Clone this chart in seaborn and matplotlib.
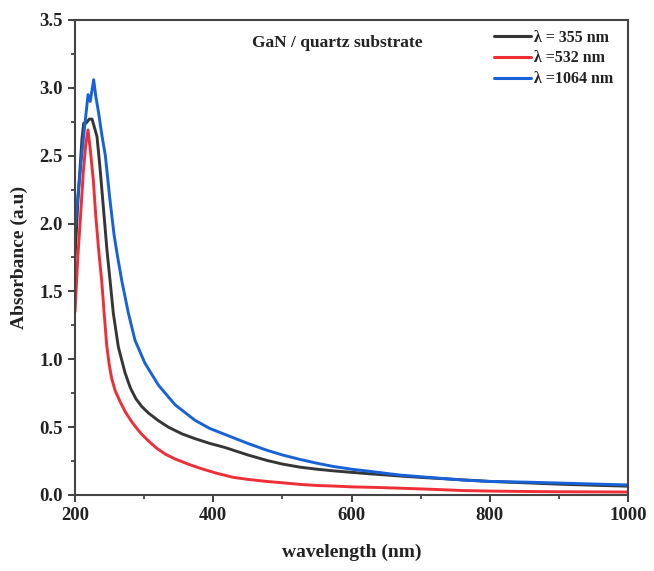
import numpy as np
import pandas as pd
import seaborn as sns
import matplotlib
matplotlib.use("Agg")
import matplotlib.pyplot as plt
from matplotlib.ticker import MultipleLocator

# ---- data ----
wl_355 = [200, 204, 207.7, 210, 212.6, 216, 220.7, 224.6, 228, 231.8, 236, 241, 246.3, 250.7,
          255.4, 262.7, 272.4, 280, 288, 296, 306, 320, 335, 355, 373.7, 395, 417, 450, 477.4,
          500, 525.6, 550, 573.8, 600, 622, 670, 699, 750, 800, 850, 900, 950, 1000]
ab_355 = [1.75, 2.15, 2.44, 2.62, 2.74, 2.74, 2.77, 2.77, 2.71, 2.64, 2.42, 2.12, 1.80, 1.58,
          1.34, 1.09, 0.90, 0.79, 0.71, 0.655, 0.605, 0.55, 0.50, 0.45, 0.415, 0.38, 0.35, 0.295,
          0.255, 0.228, 0.205, 0.19, 0.178, 0.167, 0.158, 0.14, 0.13, 0.115, 0.10, 0.09, 0.08,
          0.072, 0.065]

wl_532 = [200, 204, 207.7, 212, 215.5, 218.8, 222, 226.5, 230, 234.3, 238.6, 242, 245.9, 249.5,
          253, 258, 265, 273, 282, 288, 296, 306, 318, 331, 345, 365, 381, 405, 429, 450, 477,
          500, 525.6, 550, 573.8, 600, 641, 700, 761, 800, 850, 900, 950, 1000]
ab_532 = [1.35, 1.75, 2.03, 2.38, 2.58, 2.69, 2.55, 2.32, 2.06, 1.80, 1.58, 1.35, 1.10, 0.96,
          0.86, 0.77, 0.69, 0.61, 0.54, 0.50, 0.45, 0.40, 0.345, 0.30, 0.265, 0.225, 0.197, 0.16,
          0.13, 0.115, 0.10, 0.09, 0.078, 0.07, 0.066, 0.06, 0.055, 0.045, 0.033, 0.029, 0.026,
          0.024, 0.023, 0.022]

wl_1064 = [200, 205, 210, 214, 217, 218.8, 222, 224.5, 227, 230, 234, 238.6, 243.9, 250, 256.4,
           260.8, 267.6, 277.2, 286.8, 301.3, 320.6, 344.7, 373.7, 395, 420, 450, 477.4, 500,
           525.6, 550, 573.8, 600, 622, 670, 699, 761, 800, 850, 902, 950, 1000]
ab_1064 = [1.97, 2.25, 2.52, 2.72, 2.86, 2.95, 2.90, 2.98, 3.06, 2.94, 2.82, 2.66, 2.50, 2.20,
           1.92, 1.78, 1.58, 1.34, 1.14, 0.97, 0.81, 0.665, 0.55, 0.49, 0.44, 0.38, 0.33,
           0.295, 0.262, 0.234, 0.21, 0.19, 0.177, 0.147, 0.135, 0.11, 0.10, 0.095, 0.088, 0.081,
           0.074]

labels = ["λ = 355 nm", "λ =532 nm", "λ =1064 nm"]
colors = ["#363636", "#ef2f37", "#1862d8"]

x_ticks = [200, 400, 600, 800, 1000]
y_ticks = [0.0, 0.5, 1.0, 1.5, 2.0, 2.5, 3.0, 3.5]

df = pd.concat([
    pd.DataFrame({"wavelength": wl_355, "abs": ab_355, "series": labels[0]}),
    pd.DataFrame({"wavelength": wl_532, "abs": ab_532, "series": labels[1]}),
    pd.DataFrame({"wavelength": wl_1064, "abs": ab_1064, "series": labels[2]}),
])

sns.set_style("ticks")
plt.rcParams["font.family"] = ["Liberation Serif", "DejaVu Serif"]
plt.rcParams["font.weight"] = "bold"

fig = plt.figure(figsize=(6.54, 5.71), dpi=100)
ax = fig.add_axes([0.1147, 0.1331, 0.8456, 0.8319])

sns.lineplot(data=df, x="wavelength", y="abs", hue="series", palette=colors,
             hue_order=labels, linewidth=2.1, ax=ax, sort=False, estimator=None)

ax.set_xlim(200, 1000)
ax.set_ylim(0, 3.5)
ax.set_xticks(x_ticks)
ax.set_yticks(y_ticks)
ax.set_yticklabels([f"{v:.1f}" for v in y_ticks])
ax.xaxis.set_minor_locator(MultipleLocator(100))
ax.yaxis.set_minor_locator(MultipleLocator(0.25))
ax.tick_params(axis="both", which="major", direction="out", length=5, width=1.3,
               labelsize=13.5, color="#333333", top=False, right=False, pad=4)
ax.tick_params(axis="both", which="minor", direction="out", length=3, width=1.2,
               color="#333333", top=False, right=False)
for lab in ax.get_xticklabels() + ax.get_yticklabels():
    lab.set_fontweight("bold")
    lab.set_color("#222222")

for s in ax.spines.values():
    s.set_visible(True)
    s.set_linewidth(1.5)
    s.set_color("#444444")

ax.set_xlabel("wavelength (nm)", fontsize=14, fontweight="bold", labelpad=14, color="#222222")
ax.set_ylabel("Absorbance (a.u)", fontsize=14, fontweight="bold", labelpad=8, color="#222222")

ax.text(0.3195, 0.951, "GaN / quartz substrate", transform=ax.transAxes,
        fontsize=12.5, fontweight="bold", color="#222222", ha="left", va="center")

leg = ax.legend(loc="upper right", bbox_to_anchor=(1.0, 1.01), frameon=False,
                fontsize=11.5, handlelength=2.3, handletextpad=0.2, labelspacing=0.3)
for t in leg.get_texts():
    t.set_fontweight("bold")
    t.set_color("#222222")
for h in leg.get_lines():
    h.set_linewidth(2.2)

fig.savefig("out.png", dpi=100)
